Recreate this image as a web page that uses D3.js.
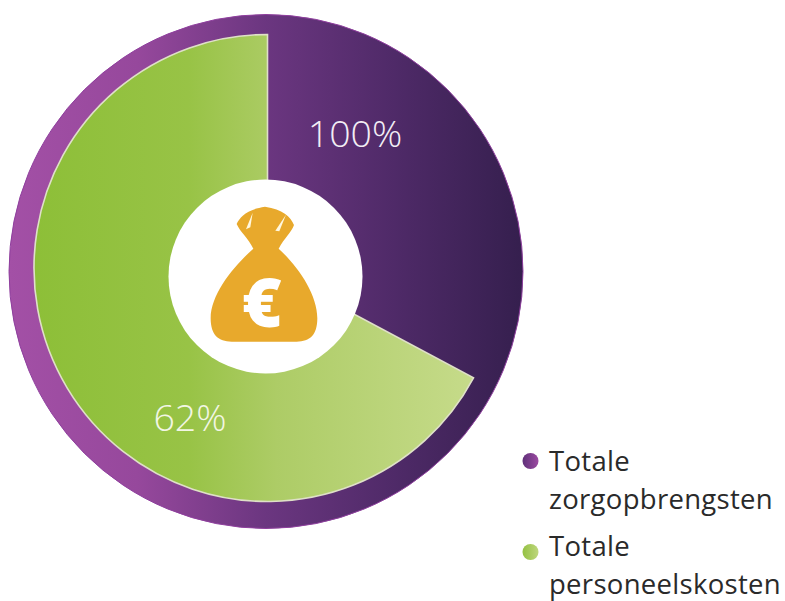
<!DOCTYPE html>
<html><head><meta charset="utf-8">
<script src="https://cdn.jsdelivr.net/npm/d3@7/dist/d3.min.js"></script>
<style>html,body{margin:0;padding:0;background:#fff}svg{display:block}text{font-family:"Open Sans",sans-serif}</style>
</head><body><svg id="c" width="785" height="601"></svg>
<script>
const categories = ["Totale zorgopbrengsten", "Totale personeelskosten"];
const valueLabels = ["100%", "62%"];
const ringValue = [100];
const drawnShares = [32.8, 67.2]; // purple wedge, green wedge, as drawn in the picture
const legendLines = [["Totale", "zorgopbrengsten"], ["Totale", "personeelskosten"]];

const svg = d3.select("#c");
const defs = svg.append("defs");
function grad(id, stops, x1, x2) {
  const g = defs.append("linearGradient").attr("id", id).attr("gradientUnits", "userSpaceOnUse")
    .attr("x1", x1).attr("x2", x2).attr("y1", 0).attr("y2", 0);
  stops.forEach(s => g.append("stop").attr("offset", s[0]).attr("stop-color", s[1]));
}
grad("gP", [[0, "#a350a6"], [0.25, "#96489c"], [0.5, "#6b3680"], [0.75, "#4f2a68"], [1, "#351f4e"]], -257, 257);
grad("gG", [[0, "#8dbf38"], [0.35, "#98c346"], [0.55, "#adcc66"], [1, "#c6db8a"]], -232, 206);
grad("gLP", [[0, "#5d2f78"], [1, "#9a4aa0"]], 522, 538);
grad("gLG", [[0, "#93c040"], [1, "#bdd67c"]], 522, 538);

// outer ring and purple disc
const outer = svg.append("g").attr("transform", "translate(266,271.5)");
outer.selectAll("path").data(d3.pie().sort(null)(ringValue)).join("path")
  .attr("d", d3.arc().innerRadius(0).outerRadius(257))
  .attr("fill", "url(#gP)").attr("stroke", "#8f3f9e").attr("stroke-width", 1);

// green wedge
const arcs = d3.pie().sort(null)(drawnShares);
svg.append("path").datum(arcs[1]).attr("transform", "translate(267.5,268)")
  .attr("d", d3.arc().innerRadius(0).outerRadius(233.5))
  .attr("fill", "url(#gG)").attr("stroke", "#dfe0c8").attr("stroke-width", 1.6);

// centre circle with money bag
svg.append("circle").attr("cx", 265.5).attr("cy", 276.5).attr("r", 97).attr("fill", "#fff");
const bag = svg.append("g").attr("transform", "translate(160,170) scale(0.3333)");
bag.append("path").attr("fill", "#e8a92c").attr("d",
  "M230,162 C240,140 262,118 315,110 C368,118 392,140 402,165 C396,185 372,205 356,236 C410,285 472,370 472,445 C472,495 450,515 410,515 L215,515 C175,515 152,495 152,445 C152,370 225,285 280,236 C265,205 240,185 230,162 Z");
bag.append("path").attr("fill", "#fff8e0").attr("d", "M278,128 L258,178 L271,172 Z");
bag.append("path").attr("fill", "#fff8e0").attr("d", "M378,134 L346,182 L358,184 Z");
svg.append("text").attr("x", 262).attr("y", 327).attr("text-anchor", "middle")
  .attr("font-size", 68).attr("font-weight", 800).attr("fill", "#fff").text("€");

// value labels
const labelPos = [[355, 147], [190, 431]];
svg.selectAll("text.v").data(valueLabels).join("text").attr("class", "v")
  .attr("x", (d, i) => labelPos[i][0]).attr("y", (d, i) => labelPos[i][1])
  .attr("text-anchor", "middle").attr("font-size", 37.5).attr("font-weight", 300)
  .attr("fill", (d, i) => i ? "#f2f6e4" : "#f3eef5").text(d => d);

// legend
const legY = [461, 552];
const legBase = [[471, 509], [556, 594]];
const leg = svg.selectAll("g.l").data(categories).join("g").attr("class", "l");
leg.append("circle").attr("cx", 530.5).attr("cy", (d, i) => legY[i]).attr("r", 8)
  .attr("fill", (d, i) => i ? "url(#gLG)" : "url(#gLP)");
leg.each(function (d, i) {
  d3.select(this).selectAll("text").data(legendLines[i]).join("text")
    .attr("x", 549).attr("y", (t, j) => legBase[i][j])
    .attr("font-size", 27.5).attr("letter-spacing", 0.3).attr("fill", "#2a2a2a").text(t => t);
});
</script></body></html>
